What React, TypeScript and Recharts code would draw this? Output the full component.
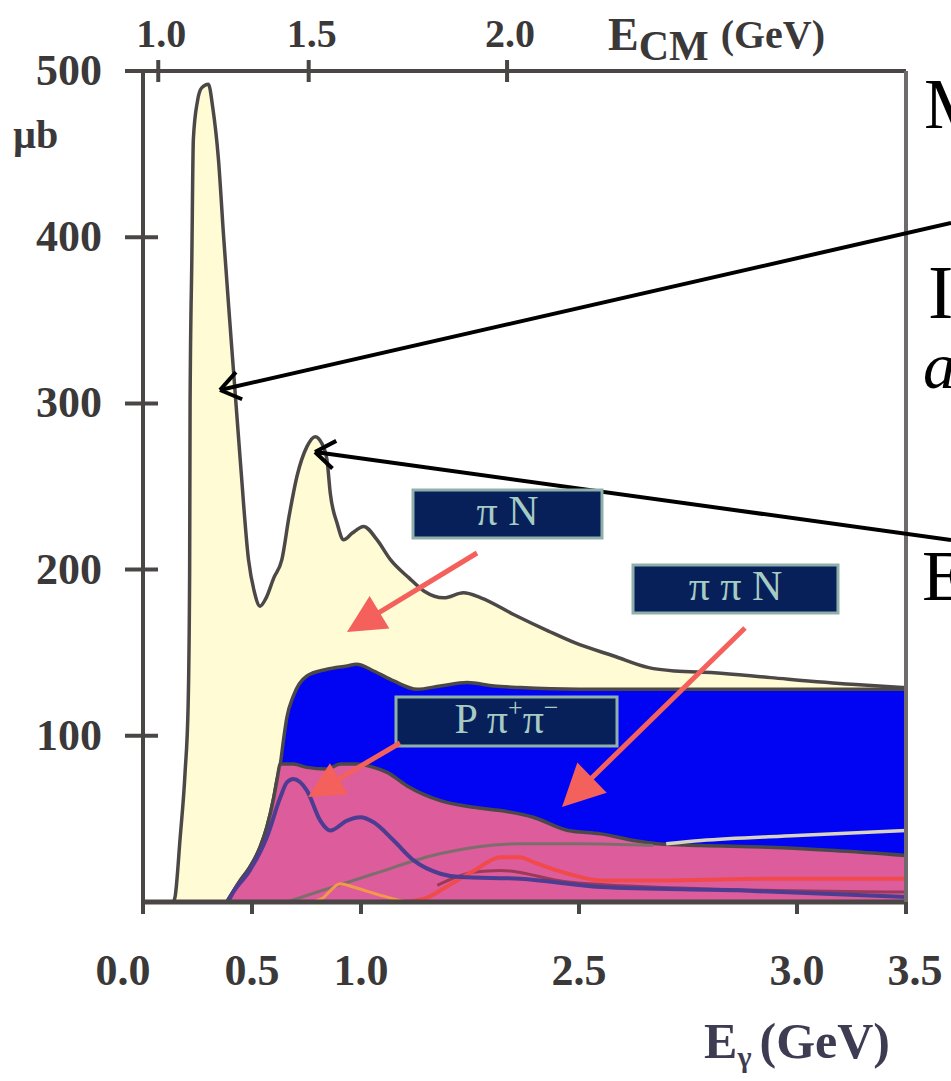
import React from 'react'
import { ComposedChart, Area, Line, XAxis, YAxis } from 'recharts'

// photon energy E_gamma (GeV) vs cross section (µb)
const totalE = [0.14, 0.147, 0.17, 0.193, 0.207, 0.214, 0.216, 0.224, 0.231, 0.25, 0.27, 0.3, 0.32, 0.346, 0.37, 0.4, 0.446, 0.484, 0.51, 0.537, 0.565, 0.6, 0.637, 0.67, 0.706, 0.752, 0.79, 0.82, 0.844, 0.859, 0.89, 0.92, 0.96, 1.012, 1.073, 1.135, 1.22, 1.29, 1.38, 1.47, 1.55, 1.7, 1.86, 1.98, 2.16, 2.32, 2.44, 2.62, 2.88, 3.25, 3.5]
const totalS = [0, 3, 38, 78, 118, 200, 300, 387, 459, 482, 490, 492, 478, 447, 400, 346, 266, 206, 187, 178, 183, 195, 206, 232, 256, 274, 280, 276, 266, 246, 228, 218, 222, 226, 218, 206, 195, 187, 183, 186, 183, 173, 163, 156, 148, 141, 139, 138, 135, 131, 129]

const multiE = [0.384, 0.446, 0.49, 0.537, 0.568, 0.6, 0.614, 0.63, 0.645, 0.66, 0.69, 0.752, 0.844, 0.936, 0.98, 1.058, 1.15, 1.257, 1.364, 1.487, 1.61, 1.73, 2.0, 2.5, 3.0, 3.5]
const multiS = [0, 13, 21, 33, 45, 63, 73, 83, 98, 111, 124, 136, 140, 142, 143, 139, 133, 128, 130, 132, 130, 129, 128, 128, 128, 128]

const ppipiE = [0.384, 0.446, 0.49, 0.537, 0.568, 0.6, 0.614, 0.63, 0.69, 0.752, 0.844, 0.905, 0.98, 1.058, 1.12, 1.21, 1.364, 1.517, 1.64, 1.79, 1.95, 2.1, 2.25, 2.36, 2.56, 2.87, 3.17, 3.5]
const ppipiS = [0, 13, 21, 33, 45, 63, 73, 83, 83, 81, 80, 83, 83, 81, 78, 70, 61, 57, 55, 51, 43, 41, 37, 35, 34, 33, 31, 28]

const purpleE = [0.39, 0.41, 0.49, 0.568, 0.63, 0.66, 0.69, 0.752, 0.813, 0.859, 0.936, 0.997, 1.058, 1.15, 1.242, 1.364, 1.456, 1.73, 2.1, 2.73, 3.5]
const purpleS = [0, 5, 19, 39, 63, 72, 74, 67, 49, 43, 49, 51, 48, 37, 25, 17, 15, 14, 9, 7, 3]

const grayE = [0.66, 0.8, 1.06, 1.36, 1.73, 2.0, 2.34]
const grayS = [0, 6, 17, 29, 35, 35, 34]

const lightE = [2.4, 2.56, 3.0, 3.5]
const lightS = [35, 37, 40, 43]

const redE = [1.18, 1.29, 1.39, 1.52, 1.64, 1.73, 1.79, 1.95, 2.1, 2.4, 2.87, 3.5]
const redS = [0, 2, 9, 19, 27, 27, 24, 17, 13, 13, 14, 14]

const orangeE = [0.78, 0.82, 0.905, 0.965, 1.09, 1.21]
const orangeS = [0, 2, 11, 9, 4, 0]

const maroonE = [1.35, 1.52, 1.64, 1.95, 2.56, 3.5]
const maroonS = [10, 18, 19, 12, 8, 6]

const yTicks = [100, 200, 300, 400, 500]
const xTicks = [0, 0.5, 1.0, 2.0, 3.0, 3.5]
const xTickLabels = ['0.0', '0.5', '1.0', '2.5', '3.0', '3.5']
const topTicks = [0.07, 0.76, 1.67]
const topTickLabels = ['1.0', '1.5', '2.0']

const zip = (es: number[], ss: number[]) => es.map((e, i) => ({ e, s: ss[i] }))

const AXIS = '#4a4646'
const LABEL_FONT = '"Liberation Serif", "DejaVu Serif", serif'

const LeftTick = (props: any) => {
  const { x, y, payload } = props
  return (
    <g>
      <line x1={x - 18} x2={x + 15} y1={y} y2={y} stroke={AXIS} strokeWidth={4} />
      <text x={x - 41} y={y + 14} textAnchor="end" fontFamily={LABEL_FONT} fontWeight="bold" fontSize={44} fill="#3a3838">
        {payload.value}
      </text>
    </g>
  )
}

const BottomTick = (props: any) => {
  const { x, y, index } = props
  const nudge = index === 0 ? -20 : index === xTicks.length - 1 ? 9 : 0
  return (
    <g>
      <line x1={x} x2={x} y1={y} y2={y + 12} stroke={AXIS} strokeWidth={4} />
      <text x={x + nudge} y={y + 83} textAnchor="middle" fontFamily={LABEL_FONT} fontWeight="bold" fontSize={44} fill="#3a3838">
        {xTickLabels[index]}
      </text>
    </g>
  )
}

const TopTick = (props: any) => {
  const { x, y, index } = props
  return (
    <g>
      <line x1={x} x2={x} y1={y - 11} y2={y + 11} stroke={AXIS} strokeWidth={4} />
      <text x={x + 3} y={y - 24} textAnchor="middle" fontFamily={LABEL_FONT} fontWeight="bold" fontSize={40} fill="#3a3838">
        {topTickLabels[index]}
      </text>
    </g>
  )
}

function RedArrow({ x1, y1, x2, y2, head = 38, half = 19 }: any) {
  const dx = x2 - x1
  const dy = y2 - y1
  const len = Math.hypot(dx, dy)
  const ux = dx / len
  const uy = dy / len
  const bx = x2 - ux * head
  const by = y2 - uy * head
  const px = -uy
  const py = ux
  return (
    <g>
      <line x1={x1} y1={y1} x2={bx + ux * 4} y2={by + uy * 4} stroke="#f4605c" strokeWidth={5} />
      <polygon
        points={`${x2},${y2} ${bx + px * half},${by + py * half} ${bx - px * half},${by - py * half}`}
        fill="#f4605c"
      />
    </g>
  )
}

function BlackArrow({ x1, y1, x2, y2 }: any) {
  const a = Math.atan2(y1 - y2, x1 - x2)
  const arm = 24
  const spread = 0.62
  return (
    <g stroke="#000" strokeWidth={4} fill="none">
      <line x1={x1} y1={y1} x2={x2} y2={y2} />
      <line x1={x2} y1={y2} x2={x2 + arm * Math.cos(a + spread)} y2={y2 + arm * Math.sin(a + spread)} />
      <line x1={x2} y1={y2} x2={x2 + arm * Math.cos(a - spread)} y2={y2 + arm * Math.sin(a - spread)} />
    </g>
  )
}

function Tag({ x, y, w, h, children }: any) {
  return (
    <g>
      <rect x={x} y={y} width={w} height={h} fill="#07205a" stroke="#8fb0aa" strokeWidth={3} />
      <text x={x + w / 2} y={y + h - 13} textAnchor="middle" fontFamily={LABEL_FONT} fontSize={42} fill="#a6cbc3">
        {children}
      </text>
    </g>
  )
}

export default function App() {
  return (
    <div style={{ position: 'absolute', left: 0, top: 0, width: 951, height: 1081, overflow: 'hidden', background: '#fff' }}>
      <ComposedChart width={951} height={1081} margin={{ top: 0, right: 0, bottom: 0, left: 0 }}>
        <XAxis
          xAxisId="bottom"
          dataKey="e"
          type="number"
          domain={[0, 3.5]}
          ticks={xTicks}
          height={179}
          tickSize={0}
          tickMargin={0}
          tick={<BottomTick />}
          axisLine={{ stroke: AXIS, strokeWidth: 5 }}
          allowDataOverflow
        />
        <XAxis
          xAxisId="top"
          orientation="top"
          dataKey="e"
          type="number"
          domain={[0, 3.5]}
          ticks={topTicks}
          height={71}
          tickSize={0}
          tickMargin={0}
          tick={<TopTick />}
          axisLine={{ stroke: AXIS, strokeWidth: 4 }}
          allowDataOverflow
        />
        <YAxis
          yAxisId="left"
          type="number"
          domain={[0, 500]}
          ticks={yTicks}
          width={143}
          tickSize={0}
          tickMargin={0}
          tick={<LeftTick />}
          axisLine={{ stroke: AXIS, strokeWidth: 4 }}
          allowDataOverflow
        />
        <YAxis
          yAxisId="right"
          orientation="right"
          type="number"
          domain={[0, 500]}
          width={45}
          tick={false}
          tickLine={false}
          axisLine={{ stroke: '#6e6a6e', strokeWidth: 4 }}
        />

        <Area xAxisId="bottom" yAxisId="left" data={zip(totalE, totalS)} dataKey="s" type="monotone"
          fill="#fffbd4" fillOpacity={1} stroke="#4d4848" strokeWidth={3.5} dot={false} activeDot={false} isAnimationActive={false} />
        <Area xAxisId="bottom" yAxisId="left" data={zip(multiE, multiS)} dataKey="s" type="monotone"
          fill="#0004f2" fillOpacity={1} stroke="#4d4848" strokeWidth={3.5} dot={false} activeDot={false} isAnimationActive={false} />
        <Area xAxisId="bottom" yAxisId="left" data={zip(ppipiE, ppipiS)} dataKey="s" type="monotone"
          fill="#dc5c9c" fillOpacity={1} stroke="#4d4848" strokeWidth={3.5} dot={false} activeDot={false} isAnimationActive={false} />

        <Line xAxisId="bottom" yAxisId="left" data={zip(grayE, grayS)} dataKey="s" type="monotone"
          stroke="#7d6e6c" strokeWidth={3} dot={false} activeDot={false} isAnimationActive={false} />
        <Line xAxisId="bottom" yAxisId="left" data={zip(lightE, lightS)} dataKey="s" type="monotone"
          stroke="#d9d4bf" strokeWidth={3.5} dot={false} activeDot={false} isAnimationActive={false} />
        <Line xAxisId="bottom" yAxisId="left" data={zip(maroonE, maroonS)} dataKey="s" type="monotone"
          stroke="#9a3a58" strokeWidth={3} dot={false} activeDot={false} isAnimationActive={false} />
        <Line xAxisId="bottom" yAxisId="left" data={zip(redE, redS)} dataKey="s" type="monotone"
          stroke="#f24a4a" strokeWidth={4} dot={false} activeDot={false} isAnimationActive={false} />
        <Line xAxisId="bottom" yAxisId="left" data={zip(orangeE, orangeS)} dataKey="s" type="monotone"
          stroke="#f29a4a" strokeWidth={3} dot={false} activeDot={false} isAnimationActive={false} />
        <Line xAxisId="bottom" yAxisId="left" data={zip(purpleE, purpleS)} dataKey="s" type="monotone"
          stroke="#4c3d92" strokeWidth={4} dot={false} activeDot={false} isAnimationActive={false} />
      </ComposedChart>

      <svg width={951} height={1081} style={{ position: 'absolute', left: 0, top: 0, pointerEvents: 'none' }}>
        <text x={13} y={148} fontFamily={LABEL_FONT} fontWeight="bold" fontSize={40} fill="#3a3838">µb</text>

        <text x={608} y={50} fontFamily={LABEL_FONT} fontWeight="bold" fontSize={46} fill="#3a3838">
          E<tspan fontSize={42} dy={10}>CM</tspan>
          <tspan fontSize={40} dx={12} dy={-12}>(GeV)</tspan>
        </text>

        <text x={890} y={1058} textAnchor="end" fontFamily={LABEL_FONT} fontWeight="bold" fontSize={50} fill="#3d3c52">
          E<tspan fontSize={30} dy={9}>γ</tspan>
          <tspan dy={-9} dx={8}>(GeV)</tspan>
        </text>

        <text x={924} y={128} fontFamily={LABEL_FONT} fontSize={72} fill="#000">M</text>
        <text x={928} y={318} fontFamily={LABEL_FONT} fontSize={76} fill="#000">I</text>
        <text x={923} y={388} fontFamily={LABEL_FONT} fontStyle="italic" fontSize={66} fill="#000">a</text>
        <text x={922} y={600} fontFamily={LABEL_FONT} fontSize={72} fill="#000">E</text>

        <BlackArrow x1={951} y1={223} x2={220} y2={390} />
        <BlackArrow x1={951} y1={540} x2={315} y2={452} />

        <Tag x={413} y={490} w={189} h={48}>π N</Tag>
        <Tag x={633} y={565} w={205} h={48}>π π N</Tag>
        <Tag x={396} y={697} w={221} h={49}>
          P π<tspan fontSize={26} dy={-17}>+</tspan><tspan dy={17}>π</tspan><tspan fontSize={26} dy={-17}>−</tspan>
        </Tag>

        <RedArrow x1={477} y1={553} x2={347} y2={632} />
        <RedArrow x1={745} y1={628} x2={562} y2={807} head={42} half={21} />
        <RedArrow x1={400} y1={743} x2={308} y2={797} head={36} half={18} />
      </svg>
    </div>
  )
}
